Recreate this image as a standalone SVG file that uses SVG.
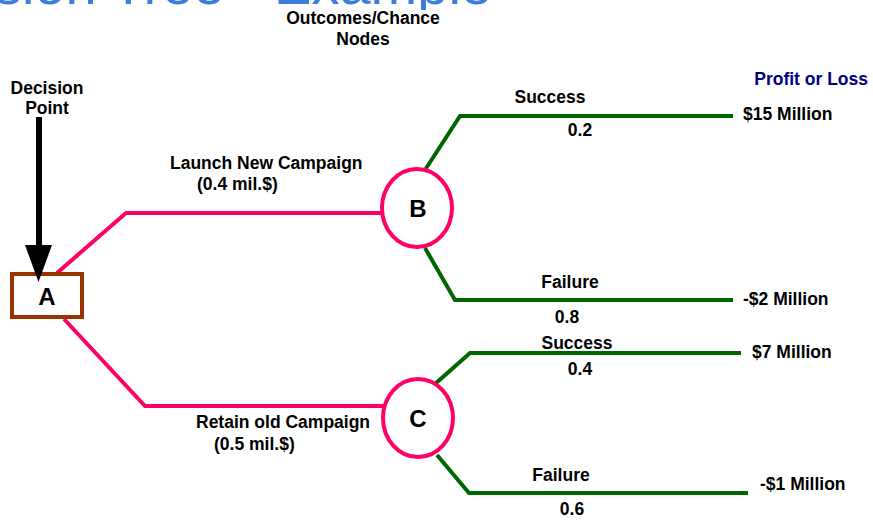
<svg xmlns="http://www.w3.org/2000/svg" width="873" height="520" viewBox="0 0 873 520">
<style>
text{font-family:"Liberation Sans",Arial,sans-serif;font-weight:bold;font-size:17.5px;fill:#000}
.c{text-anchor:middle}
.title{font-weight:normal;font-size:56px;fill:#3c7ddc;text-anchor:end}
.navy{fill:#000080}
.pink{fill:none;stroke:#ff0066;stroke-width:4}
.green{fill:none;stroke:#006600;stroke-width:4}
.node{fill:#fff;stroke:#ff0066;stroke-width:4}
.lbl{font-size:24px}
</style>
<rect width="873" height="520" fill="#fff"/>
<text class="title" x="492" y="4">Decision Tree - Example</text>
<rect x="280" y="10" width="166" height="42" fill="#fff"/>
<text class="c" x="363" y="24">Outcomes/Chance</text>
<text class="c" x="363" y="45">Nodes</text>
<text class="c" x="47" y="94">Decision</text>
<text class="c" x="47" y="114">Point</text>
<text class="navy" x="868" y="85" text-anchor="end">Profit or Loss</text>
<g id="connectors">
<polyline class="pink" points="57,273 126,213 382,213"/>
<polyline class="pink" points="64,319 145,406 384,406"/>
<polyline class="green" points="425,170 460,116 733,116"/>
<polyline class="green" points="425,248 455,300 733,300"/>
<polyline class="green" points="435,384 470,353 741,353"/>
<polyline class="green" points="437,455 469,493 748,493"/>
</g>
<g id="A">
<rect x="12" y="274" width="70" height="43" fill="#fff" stroke="#993300" stroke-width="4"/>
<text class="c lbl" x="47" y="305">A</text>
</g>
<g id="decision-arrow">
<line x1="39" y1="117" x2="39" y2="247" stroke="#000" stroke-width="6"/>
<polygon points="25,245 52,245 38.5,282" fill="#000"/>
</g>
<g id="B">
<ellipse class="node" cx="417" cy="208" rx="35" ry="39"/>
<text class="c lbl" x="418" y="217">B</text>
</g>
<g id="C">
<ellipse class="node" cx="418" cy="418" rx="35" ry="39"/>
<text class="c lbl" x="418" y="427">C</text>
</g>
<text x="170" y="169">Launch New Campaign</text>
<text x="197" y="190">(0.4 mil.$)</text>
<text x="196" y="428">Retain old Campaign</text>
<text x="214" y="450">(0.5 mil.$)</text>
<text class="c" x="550" y="103">Success</text>
<text class="c" x="580" y="136">0.2</text>
<text class="c" x="570" y="288">Failure</text>
<text class="c" x="567" y="323">0.8</text>
<text class="c" x="577" y="349">Success</text>
<text class="c" x="580" y="375">0.4</text>
<text class="c" x="561" y="481">Failure</text>
<text class="c" x="572" y="515">0.6</text>
<text x="743" y="120">$15 Million</text>
<text x="743" y="305">-$2 Million</text>
<text x="752" y="358">$7 Million</text>
<text x="760" y="490">-$1 Million</text>
</svg>
